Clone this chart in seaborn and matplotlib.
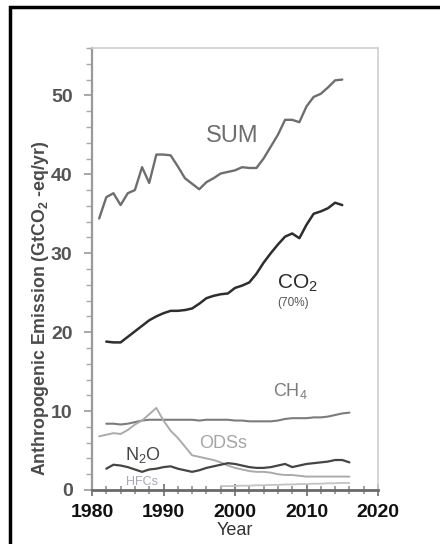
import numpy as np
import pandas as pd
import matplotlib
matplotlib.use("Agg")
import matplotlib.pyplot as plt
import seaborn as sns
from matplotlib.patches import Rectangle
from matplotlib.ticker import MultipleLocator

# ---------------- data ----------------
sum_years = list(range(1981, 2016))
sum_vals = [34.4, 37.1, 37.6, 36.1, 37.6, 38.0, 40.9, 38.9, 42.5, 42.5,
            42.4, 41.0, 39.5, 38.8, 38.1, 39.0, 39.5, 40.1, 40.3, 40.5,
            40.9, 40.8, 40.8, 42.0, 43.5, 45.0, 46.9, 46.9, 46.6, 48.6,
            49.8, 50.2, 51.0, 51.9, 52.0]

co2_years = list(range(1982, 2016))
co2_vals = [18.8, 18.7, 18.7, 19.4, 20.1, 20.8, 21.5, 22.0, 22.4, 22.7,
            22.7, 22.8, 23.0, 23.6, 24.3, 24.6, 24.8, 24.9, 25.6, 25.9,
            26.3, 27.4, 28.8, 30.0, 31.1, 32.1, 32.5, 31.9, 33.6, 35.0,
            35.3, 35.7, 36.4, 36.1]

ch4_years = list(range(1982, 2017))
ch4_vals = [8.4, 8.4, 8.3, 8.4, 8.6, 8.8, 8.9, 8.9, 8.9, 8.9,
            8.9, 8.9, 8.9, 8.8, 8.9, 8.9, 8.9, 8.9, 8.8, 8.8,
            8.7, 8.7, 8.7, 8.7, 8.8, 9.0, 9.1, 9.1, 9.1, 9.2,
            9.2, 9.3, 9.5, 9.7, 9.8]

ods_years = list(range(1981, 2017))
ods_vals = [6.8, 7.0, 7.2, 7.1, 7.6, 8.3, 8.8, 9.6, 10.4, 8.8,
            7.5, 6.6, 5.5, 4.4, 4.2, 4.0, 3.8, 3.5, 3.1, 2.8,
            2.6, 2.4, 2.3, 2.3, 2.2, 2.0, 1.9, 1.9, 1.8, 1.7,
            1.7, 1.7, 1.7, 1.7, 1.7, 1.7]

n2o_years = list(range(1982, 2017))
n2o_vals = [2.7, 3.2, 3.1, 2.9, 2.6, 2.3, 2.6, 2.7, 2.9, 3.0,
            2.7, 2.5, 2.3, 2.5, 2.8, 3.0, 3.2, 3.4, 3.3, 3.1,
            2.9, 2.8, 2.8, 2.9, 3.1, 3.3, 2.9, 3.1, 3.3, 3.4,
            3.5, 3.6, 3.8, 3.8, 3.5]

hfc_years = list(range(1998, 2017))
hfc_vals = [0.5, 0.5, 0.5, 0.55, 0.55, 0.6, 0.6, 0.65, 0.65, 0.7,
            0.7, 0.75, 0.75, 0.8, 0.8, 0.85, 0.85, 0.9, 0.9]

x_ticks = [1980, 1990, 2000, 2010, 2020]
y_ticks = [0, 10, 20, 30, 40, 50]

series = [
    ("SUM", sum_years, sum_vals),
    ("CO2", co2_years, co2_vals),
    ("CH4", ch4_years, ch4_vals),
    ("ODSs", ods_years, ods_vals),
    ("N2O", n2o_years, n2o_vals),
    ("HFCs", hfc_years, hfc_vals),
]
df = pd.concat([pd.DataFrame({"Year": y, "Emission": v, "Gas": g}) for g, y, v in series],
               ignore_index=True)

palette = {"SUM": "#6e6e6e", "CO2": "#2e2e2e", "CH4": "#7c7c7c",
           "ODSs": "#ababab", "N2O": "#454545", "HFCs": "#c2c2c8"}
widths = {"SUM": 1.7, "CO2": 1.8, "CH4": 1.5, "ODSs": 1.4, "N2O": 1.6, "HFCs": 1.3}

# ---------------- style ----------------
sns.set_style("white")
plt.rcParams["font.family"] = ["Liberation Sans", "DejaVu Sans"]
plt.rcParams["mathtext.default"] = "regular"

fig = plt.figure(figsize=(4.4, 5.44), dpi=100)
ax = fig.add_axes([92 / 440, 1 - 490 / 544, (378 - 92) / 440, (490 - 48) / 544])

for g, _, _ in series:
    sns.lineplot(data=df[df["Gas"] == g], x="Year", y="Emission", ax=ax,
                 color=palette[g], lw=widths[g], legend=False)

ax.set_xlim(1980, 2020)
ax.set_ylim(0, 56)
ax.set_xticks(x_ticks)
ax.set_yticks(y_ticks)
ax.xaxis.set_minor_locator(MultipleLocator(2))
ax.yaxis.set_minor_locator(MultipleLocator(2))

ax.tick_params(axis="y", which="major", direction="out", length=6, width=1.2,
               color="#9a9a9a", labelsize=14, labelcolor="#555555", pad=8, left=True)
ax.tick_params(axis="y", which="minor", direction="out", length=4, width=1.0,
               color="#a8a8a8", left=True)
ax.tick_params(axis="x", which="major", direction="inout", length=8, width=1.3,
               color="#777777", labelsize=14, labelcolor="#111111", pad=6, bottom=True)
ax.tick_params(axis="x", which="minor", direction="inout", length=6, width=1.1,
               color="#888888", bottom=True)
for lab in ax.get_xticklabels() + ax.get_yticklabels():
    lab.set_fontweight("bold")

for side, col, lw in [("top", "#d0d0d0", 1.2), ("right", "#d0d0d0", 1.2),
                      ("left", "#9a9a9a", 1.6), ("bottom", "#6a6a6a", 2.0)]:
    ax.spines[side].set_visible(True)
    ax.spines[side].set_color(col)
    ax.spines[side].set_linewidth(lw)

ax.set_xlabel("Year", fontsize=13, color="#333333", labelpad=1)
ax.set_ylabel("Anthropogenic Emission (GtCO$_2$ -eq/yr)", fontsize=12.8,
              fontweight="bold", color="#4a4a4a")
ax.yaxis.set_label_coords(-0.18, 0.41)
ax.yaxis.label.set_va("center")

# series annotations
ax.text(1999.6, 44.9, "SUM", fontsize=17, color="#6e6e6e", ha="center", va="center")
ax.text(2008.7, 26.2, "CO$_2$", fontsize=15, color="#2a2a2a", ha="center", va="center")
ax.text(2008.1, 23.7, "(70%)", fontsize=8.5, color="#555555", ha="center", va="center")
ax.text(2007.8, 12.5, "CH$_4$", fontsize=13, color="#7c7c7c", ha="center", va="center")
ax.text(1998.3, 5.9, "ODSs", fontsize=13, color="#a5a5a5", ha="center", va="center")
ax.text(1987.1, 4.4, "N$_2$O", fontsize=13, color="#454545", ha="center", va="center")
ax.text(1987.0, 1.0, "HFCs", fontsize=9, color="#a7a7b8", ha="center", va="center")

# outer black frame (extends past the right and bottom edges)
fig.patches.append(Rectangle((9.5 / 440, -0.2), 1.2, (544 - 7) / 544 + 0.2,
                             transform=fig.transFigure, fill=False,
                             lw=2.5, ec="black", zorder=10))

fig.savefig("out.png", dpi=100)
